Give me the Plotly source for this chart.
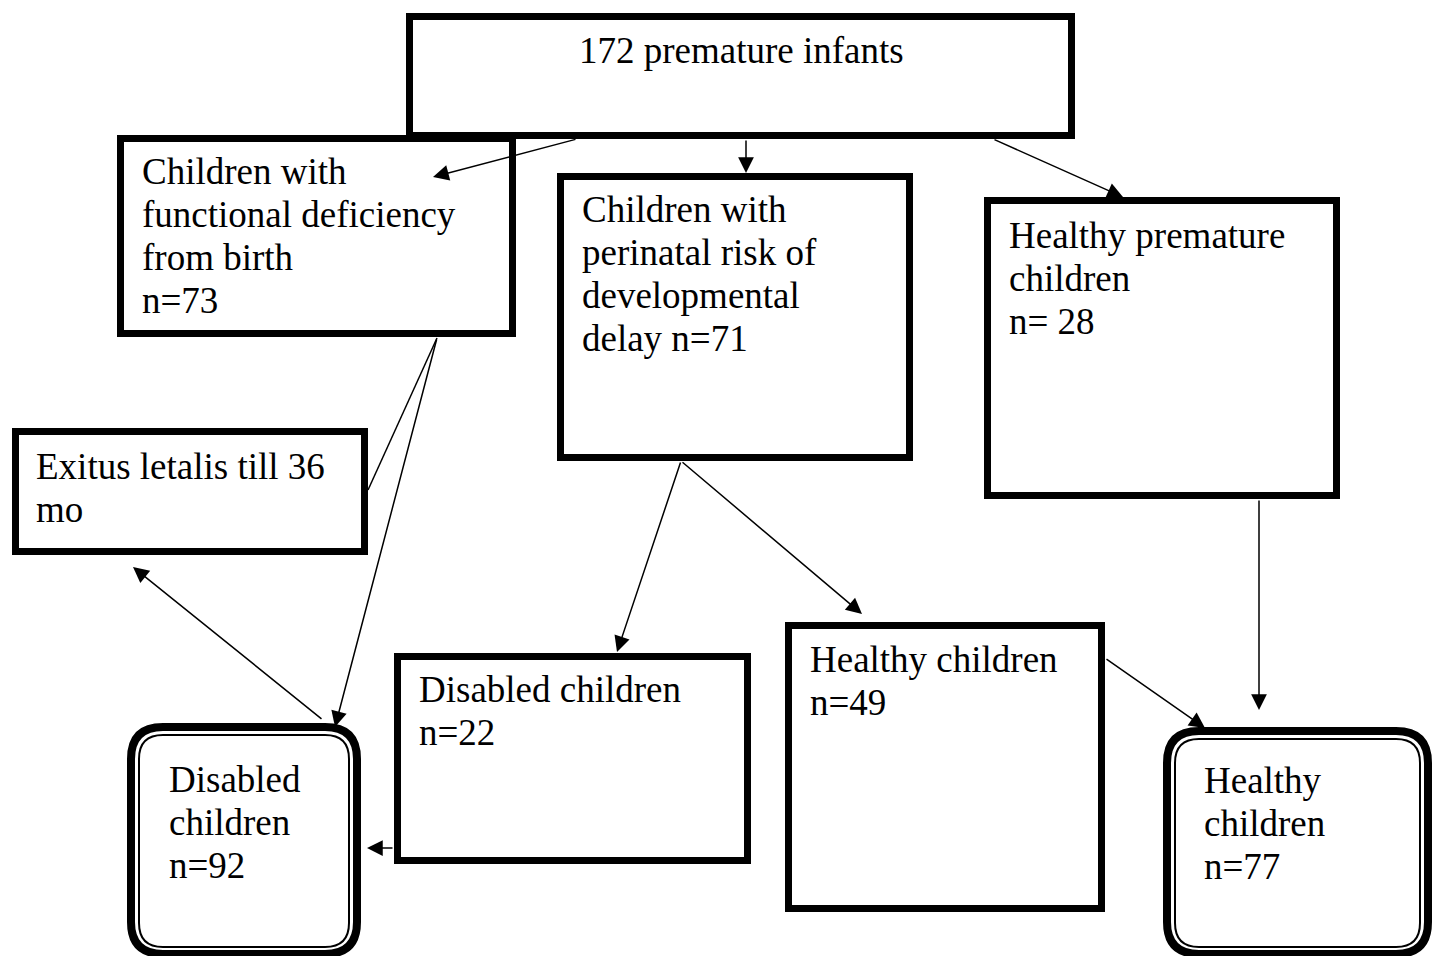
import plotly.graph_objects as go

# ---------------- data ----------------
node_ids = ["root", "deficiency", "risk", "healthy_premature", "exitus",
            "disabled_risk", "healthy_risk", "disabled_total", "healthy_total"]
node_counts = [172, 73, 71, 28, None, 22, 49, 92, 77]
node_lines = [
    ["{n} premature infants"],
    ["Children with", "functional deficiency", "from birth", "n={n}"],
    ["Children with", "perinatal risk of", "developmental", "delay n={n}"],
    ["Healthy premature", "children", "n= {n}"],
    ["Exitus letalis till 36", "mo"],
    ["Disabled children", "n={n}"],
    ["Healthy children", "n={n}"],
    ["Disabled", "children", "n={n}"],
    ["Healthy", "children", "n={n}"],
]
edges_from = ["root", "root", "root", "deficiency", "deficiency", "disabled_total",
              "risk", "risk", "disabled_risk", "healthy_risk", "healthy_premature"]
edges_to = ["deficiency", "risk", "healthy_premature", "exitus", "disabled_total", "exitus",
            "disabled_risk", "healthy_risk", "disabled_total", "healthy_total", "healthy_total"]
edges_head = [True, True, True, False, True, True, True, True, True, True, True]

# ---------------- layout geometry (pixels) ----------------
W, H = 1432, 956
FONT = "Liberation Serif, Times New Roman, serif"
FS = 37
LINE_STEP = 43
BORDER = 7

box_style = {  # outer edges x0, y0, x1, y1 ; kind
    "root": ((406, 13, 1075, 139), "rect"),
    "deficiency": ((117, 135, 516, 337), "rect"),
    "risk": ((557, 173, 913, 461), "rect"),
    "healthy_premature": ((984, 197, 1340, 499), "rect"),
    "exitus": ((12, 428, 368, 555), "rect"),
    "disabled_risk": ((394, 653, 751, 864), "rect"),
    "healthy_risk": ((785, 622, 1105, 912), "rect"),
    "disabled_total": ((127, 723, 361, 958), "round"),
    "healthy_total": ((1163, 727, 1432, 958), "round"),
}
text_pos = {  # left x (or centre for root), first baseline
    "root": (741, 63, "center"),
    "deficiency": (143, 184, "left"),
    "risk": (583, 222, "left"),
    "healthy_premature": (1010, 248, "left"),
    "exitus": (37, 479, "left"),
    "disabled_risk": (420, 702, "left"),
    "healthy_risk": (811, 672, "left"),
    "disabled_total": (170, 792, "left"),
    "healthy_total": (1205, 793, "left"),
}
edge_geom = [  # tail (x, y), tip (x, y)
    ((577, 139), (433, 177)),
    ((746, 139), (746, 173)),
    ((993, 139), (1123, 197)),
    ((437, 338), (368, 490)),
    ((437, 338), (335, 727)),
    ((323, 720), (133, 567)),
    ((681, 461), (617, 652)),
    ((681, 461), (862, 614)),
    ((394, 848), (367, 848)),
    ((1105, 658), (1205, 728)),
    ((1259, 499), (1259, 710)),
]


def rounded_path(x0, y0, x1, y1, r):
    return (f"M{x0 + r},{y0} L{x1 - r},{y0} Q{x1},{y0} {x1},{y0 + r} "
            f"L{x1},{y1 - r} Q{x1},{y1} {x1 - r},{y1} L{x0 + r},{y1} "
            f"Q{x0},{y1} {x0},{y1 - r} L{x0},{y0 + r} Q{x0},{y0} {x0 + r},{y0} Z")


fig = go.Figure()
# invisible trace to establish axes
fig.add_trace(go.Scatter(x=[0, W], y=[0, H], mode="markers",
                         marker=dict(opacity=0), hoverinfo="skip", showlegend=False))

shapes = []
for nid in node_ids:
    (x0, y0, x1, y1), kind = box_style[nid]
    if kind == "rect":
        h = BORDER / 2
        shapes.append(dict(type="rect", xref="x", yref="y",
                           x0=x0 + h, y0=y0 + h, x1=x1 - h, y1=y1 - h,
                           line=dict(color="black", width=BORDER),
                           fillcolor="white", layer="below"))
    else:
        # thick outer rounded border + thin inner rounded border
        shapes.append(dict(type="path", xref="x", yref="y",
                           path=rounded_path(x0 + 4, y0 + 4, x1 - 4, y1 - 4, 32),
                           line=dict(color="black", width=8),
                           fillcolor="white", layer="below"))
        shapes.append(dict(type="path", xref="x", yref="y",
                           path=rounded_path(x0 + 12, y0 + 12, x1 - 12, y1 - 11, 24),
                           line=dict(color="black", width=2),
                           layer="below"))

annotations = []
for nid, n, lines in zip(node_ids, node_counts, node_lines):
    tx, tb, anchor = text_pos[nid]
    for i, ln in enumerate(lines):
        txt = ln.format(n=n) if n is not None else ln
        base = tb + i * LINE_STEP
        annotations.append(dict(
            x=tx - (3 if anchor == "left" else 0), y=base - 0.337 * FS,
            xref="x", yref="y", text=txt, showarrow=False,
            xanchor=anchor, yanchor="middle",
            font=dict(family=FONT, size=FS, color="black")))

for (fr, to, head), ((ax, ay), (x, y)) in zip(zip(edges_from, edges_to, edges_head), edge_geom):
    if head:
        annotations.append(dict(
            x=x, y=y, ax=ax, ay=ay, xref="x", yref="y", axref="x", ayref="y",
            text="", showarrow=True, arrowhead=2, arrowsize=2.1, arrowwidth=1.5,
            arrowcolor="black", standoff=0, startstandoff=0))
    else:
        shapes.append(dict(type="line", xref="x", yref="y", x0=ax, y0=ay, x1=x, y1=y,
                           line=dict(color="black", width=1.5)))

fig.update_layout(
    width=W, height=H, margin=dict(l=0, r=0, t=0, b=0),
    paper_bgcolor="white", plot_bgcolor="white",
    xaxis=dict(range=[0, W], visible=False, fixedrange=True),
    yaxis=dict(range=[H, 0], visible=False, fixedrange=True),
    shapes=shapes, annotations=annotations, showlegend=False,
)

fig.write_html("out.html", post_script="document.body.style.margin='0';",
               config={"displayModeBar": False})
